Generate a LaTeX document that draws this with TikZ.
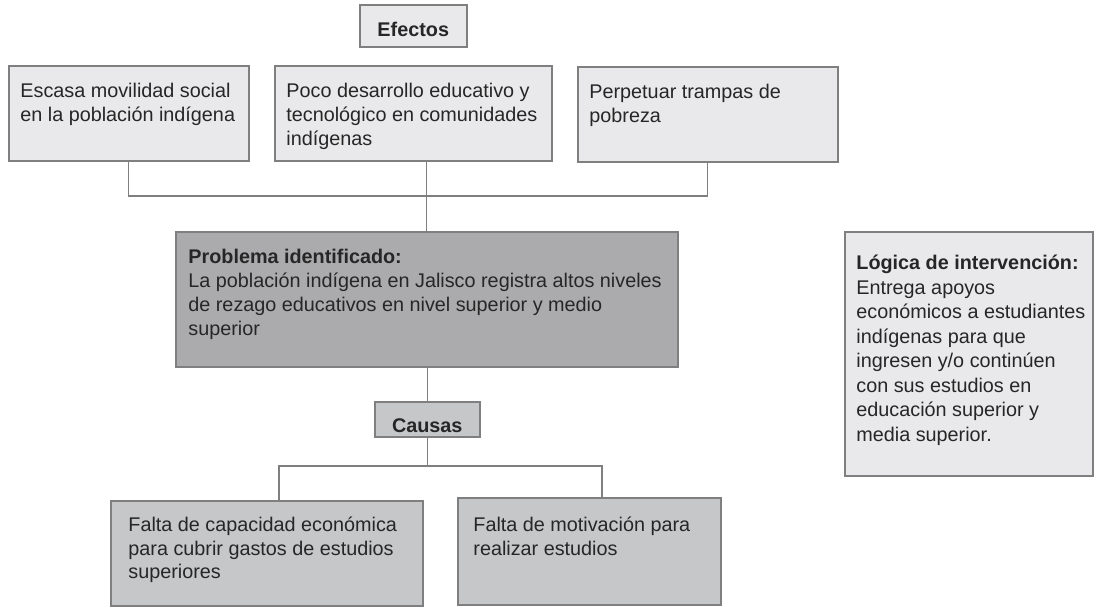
\documentclass[tikz,border=0pt]{standalone}
\usepackage{fontspec}
\setmainfont{Liberation Sans}
\definecolor{boxlight}{HTML}{E9E9EB}
\definecolor{boxdark}{HTML}{ABABAD}
\definecolor{boxmid}{HTML}{C6C7C9}
\definecolor{edge}{HTML}{7F7F7F}
\definecolor{ink}{HTML}{262626}
\tikzset{
  box/.style={draw=edge, line width=0.75pt, inner sep=0pt, anchor=north west, text=ink},
  txt/.style={anchor=north west, inner sep=0pt, align=left, text=ink},
  link/.style={draw=edge, line width=0.55pt},
}
\begin{document}
\begin{tikzpicture}[x=0.5pt, y=-0.5pt, font=\fontsize{9.9}{12}\selectfont]
\useasboundingbox (0,0) rectangle (1095,607);
% efectos
\node[box, fill=boxlight, minimum width=53.5pt, minimum height=21pt,
  text height=16pt, text depth=5pt, font=\fontsize{9.9}{12}\selectfont\bfseries] (efectos) at (359,4) {Efectos};
\node[box, fill=boxlight, minimum width=120pt, minimum height=47.5pt] (e1) at (8,65) {};
\node[box, fill=boxlight, minimum width=138.5pt, minimum height=47.5pt] (e2) at (274,65) {};
\node[box, fill=boxlight, minimum width=130pt, minimum height=47.5pt] (e3) at (577,66) {};
\node[txt] (e1t) at (20,83) {Escasa movilidad social\\en la población indígena};
\node[txt] (e2t) at (286,83) {Poco desarrollo educativo y\\tecnológico en comunidades\\indígenas};
\node[txt] (e3t) at (589,84) {Perpetuar trampas de\\pobreza};
% problema
\node[box, fill=boxdark, minimum width=251pt, minimum height=67.5pt] (prob) at (175,231) {};
\node[txt] (probt) at (188,249) {\textbf{Problema identificado:}\\La población indígena en Jalisco registra altos niveles\\de rezago educativos en nivel superior y medio\\superior};
% causas
\node[box, fill=boxmid, minimum width=52.5pt, minimum height=17.5pt,
  text height=15.5pt, text depth=2pt, font=\fontsize{9.9}{12}\selectfont\bfseries] (causas) at (374,401) {Causas};
\node[box, fill=boxmid, minimum width=156pt, minimum height=52.5pt] (c1) at (110,500) {};
\node[box, fill=boxmid, minimum width=131.5pt, minimum height=53.5pt] (c2) at (457,497) {};
\node[txt] (c1t) at (128,516) {Falta de capacidad económica\\para cubrir gastos de estudios\\superiores};
\node[txt] (c2t) at (473,516) {Falta de motivación para\\realizar estudios};
% logica
\node[box, fill=boxlight, minimum width=124pt, minimum height=122pt] (logica) at (844,231) {};
\node[txt, font=\fontsize{9.9}{12.25}\selectfont] (logicat) at (856,255) {\textbf{Lógica de intervención:}\\Entrega apoyos\\económicos a estudiantes\\indígenas para que\\ingresen y/o continúen\\con sus estudios en\\educación superior y\\media superior.};
% conectores
\coordinate (ebus) at (0,196);
\coordinate (cl) at (279,466);
\coordinate (cr) at (602,466);
\draw[link] (e1.south) -- (e1.south |- ebus) -- (e3.south |- ebus) -- (e3.south);
\draw[link] (prob.north |- e2.south) -- (prob.north);
\draw[link] (prob.south -| causas.north) -- (causas.north);
\draw[link] (causas.south) -- (causas.south |- cl);
\draw[link] (c1.north -| cl) -- (cl) -- (cr) -- (c2.north -| cr);
\end{tikzpicture}
\end{document}
